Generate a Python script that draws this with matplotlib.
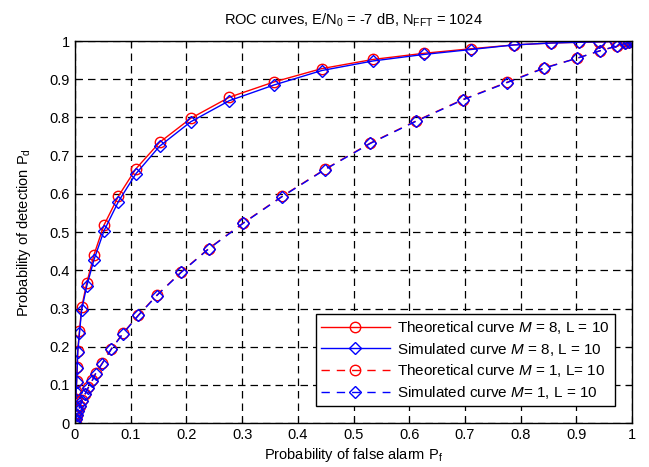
import matplotlib
matplotlib.use('Agg')
import matplotlib.pyplot as plt
import numpy as np

plt.rcParams.update({
    'font.family': 'Liberation Sans',
    'font.size': 10,
    'mathtext.fontset': 'custom',
    'mathtext.rm': 'Liberation Sans',
    'mathtext.it': 'Liberation Sans:italic',
})

# M = 8, L = 10
pf_m8 = [0, 0.0005, 0.001, 0.001, 0.002, 0.003, 0.004, 0.005, 0.008, 0.012, 0.021,
         0.034, 0.052, 0.078, 0.109, 0.152, 0.208, 0.277, 0.357, 0.443, 0.535, 0.626,
         0.711, 0.788, 0.855, 0.905, 0.94, 0.97, 0.985, 0.993, 0.998, 1.0]
pd_m8_theory = [0, 0.02, 0.04, 0.063, 0.085, 0.11, 0.147, 0.19, 0.24, 0.303, 0.366,
                0.44, 0.518, 0.594, 0.665, 0.735, 0.798, 0.853, 0.893, 0.928, 0.952, 0.968,
                0.98, 0.99, 0.995, 0.997, 0.998, 0.999, 1.0, 1.0, 1.0, 1.0]
pd_m8_sim = [0, 0.02, 0.04, 0.06, 0.082, 0.107, 0.143, 0.186, 0.235, 0.296, 0.358,
             0.427, 0.503, 0.58, 0.652, 0.725, 0.789, 0.844, 0.885, 0.923, 0.948, 0.965,
             0.978, 0.99, 0.995, 0.997, 0.998, 0.999, 1.0, 1.0, 1.0, 1.0]

# M = 1, L = 10
pf_m1 = [0, 0.001, 0.003, 0.006, 0.009, 0.013, 0.018, 0.024, 0.031, 0.037, 0.049,
         0.065, 0.086, 0.114, 0.147, 0.191, 0.24, 0.302, 0.372, 0.448, 0.53, 0.612,
         0.696, 0.775, 0.842, 0.901, 0.943, 0.973, 0.988, 0.995, 1.0]
pd_m1_theory = [0, 0.01, 0.02, 0.033, 0.045, 0.06, 0.076, 0.094, 0.112, 0.13, 0.157,
                0.194, 0.235, 0.283, 0.335, 0.396, 0.457, 0.524, 0.594, 0.664, 0.733, 0.791,
                0.847, 0.892, 0.93, 0.955, 0.975, 0.987, 0.994, 0.998, 1.0]
pd_m1_sim = [0, 0.01, 0.02, 0.032, 0.044, 0.059, 0.075, 0.093, 0.111, 0.129, 0.156,
             0.193, 0.234, 0.282, 0.334, 0.395, 0.456, 0.523, 0.593, 0.663, 0.732, 0.79,
             0.846, 0.891, 0.929, 0.955, 0.975, 0.987, 0.994, 0.998, 1.0]

ticks = np.round(np.arange(0, 1.01, 0.1), 1)
tick_labels = ['0', '0.1', '0.2', '0.3', '0.4', '0.5', '0.6', '0.7', '0.8', '0.9', '1']

fig = plt.figure(figsize=(6.49, 4.67), dpi=100)
ax = fig.add_axes([0.1155, 0.094, 0.8585, 0.818])

ms = 7.5
ax.plot(pf_m8, pd_m8_theory, '-', color='red', marker='o', mfc='none', mec='red',
        ms=ms, lw=1, label='Theoretical curve $M$ = 8, L = 10')
ax.plot(pf_m8, pd_m8_sim, '-', color='blue', marker='D', mfc='none', mec='blue',
        ms=6.2, lw=1, label='Simulated curve $M$ = 8, L = 10')
ax.plot(pf_m1, pd_m1_theory, '--', color='red', marker='o', mfc='none', mec='red',
        ms=ms, lw=1, dashes=(6, 5), label='Theoretical curve $M$ = 1, L= 10')
ax.plot(pf_m1, pd_m1_sim, '--', color='blue', marker='D', mfc='none', mec='blue',
        ms=6.2, lw=1, dashes=(6, 5), label='Simulated curve $M$= 1, L = 10')

ax.set_xlim(0, 1)
ax.set_ylim(0, 1)
ax.set_xticks(ticks)
ax.set_xticklabels(tick_labels)
ax.set_yticks(ticks)
ax.set_yticklabels(tick_labels)
ax.tick_params(direction='in', length=4, top=True, right=True, labelsize=10.5)
ax.grid(True, color='black', linestyle=(0, (6, 4)), linewidth=0.9)
for s in ax.spines.values():
    s.set_linewidth(1)

ax.set_title(r'ROC curves, E/N$_\mathrm{0}$ = -7 dB, N$_\mathrm{FFT}$ = 1024',
             fontsize=10.5, pad=12)
ax.set_xlabel(r'Probability of false alarm P$_\mathrm{f}$', fontsize=10.5, labelpad=3)
ax.set_ylabel(r'Probability of detection P$_\mathrm{d}$', fontsize=10.5, labelpad=12)

leg = ax.legend(loc='lower right', fancybox=False, edgecolor='black', framealpha=1,
                handlelength=4.5, fontsize=11, borderpad=0.35, labelspacing=0.3,
                handletextpad=0.5, borderaxespad=1.1)
leg.get_frame().set_linewidth(1)

fig.savefig('out.png', dpi=100)
